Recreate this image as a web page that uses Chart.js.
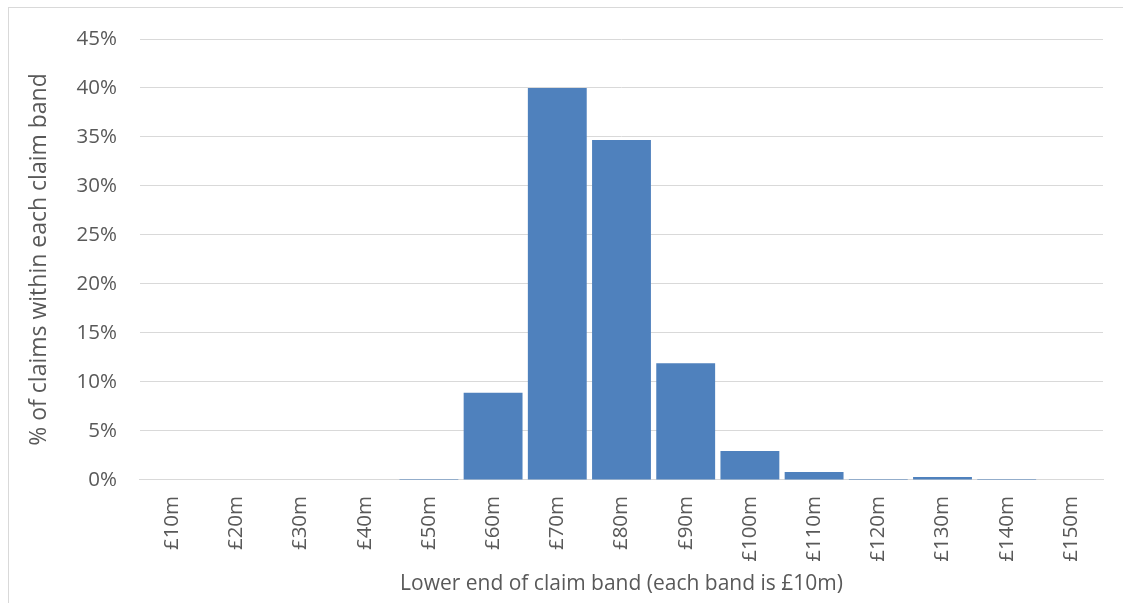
<!DOCTYPE html>
<html>
<head>
<meta charset="utf-8">
<script src="https://cdn.jsdelivr.net/npm/chart.js@4/dist/chart.umd.min.js"></script>
<style>
  html, body { margin: 0; padding: 0; background: #fff; }
  #wrap { position: relative; width: 1123px; height: 603px; overflow: hidden; }
  #frame { position: absolute; left: 8px; top: 7px; width: 1200px; height: 700px;
           border-left: 1px solid #d9d9d9; border-top: 1px solid #d9d9d9; }
  canvas { position: absolute; left: 0; top: 0; }
</style>
</head>
<body>
<div id="wrap">
  <div id="frame"></div>
  <canvas id="c" width="1123" height="603"></canvas>
</div>
<script>
// Claim bands (lower end of each £10m band)
const bands = ['£10m','£20m','£30m','£40m','£50m','£60m','£70m','£80m','£90m','£100m','£110m','£120m','£130m','£140m','£150m'];
// Share of claims falling in each band (%)
const shareOfClaims = [0, 0, 0, 0, 0.1, 8.9, 40.0, 34.7, 11.9, 2.95, 0.8, 0.1, 0.3, 0.1, 0];
// Y-axis tick values (%)
const yTicks = [0, 5, 10, 15, 20, 25, 30, 35, 40, 45];

const FONT = '"Open Sans", sans-serif';
const TEXT = '#595959';
const GRID = '#d9d9d9';

new Chart(document.getElementById('c'), {
  type: 'bar',
  data: {
    labels: bands,
    datasets: [{
      data: shareOfClaims,
      backgroundColor: '#4f81bd',
      borderWidth: 0,
      categoryPercentage: 1.0,
      barPercentage: 0.917
    }]
  },
  options: {
    responsive: false,
    animation: false,
    layout: { padding: { left: 26, right: 20, top: 39, bottom: 6 } },
    plugins: { legend: { display: false }, tooltip: { enabled: false } },
    scales: {
      x: {
        grid: { display: false, drawTicks: false },
        border: { display: true, color: GRID, width: 1 },
        ticks: {
          color: TEXT, font: { family: FONT, size: 20.5 },
          minRotation: 90, maxRotation: 90, padding: 16, autoSkip: false
        },
        title: {
          display: true, text: 'Lower end of claim band (each band is £10m)',
          color: TEXT, font: { family: FONT, size: 21 }, padding: { top: -6, bottom: 0 }
        }
      },
      y: {
        min: 0, max: 45,
        afterBuildTicks: (axis) => { axis.ticks = yTicks.map(v => ({ value: v })); },
        grid: { color: GRID, lineWidth: 1, drawTicks: false },
        border: { display: false },
        ticks: {
          color: TEXT, font: { family: FONT, size: 20.5 }, padding: 23,
          callback: (v) => v + '%'
        },
        title: {
          display: true, text: '% of claims within each claim band',
          color: TEXT, font: { family: FONT, size: 23 }, padding: { top: 0, bottom: 0 }
        }
      }
    }
  }
});
</script>
</body>
</html>
